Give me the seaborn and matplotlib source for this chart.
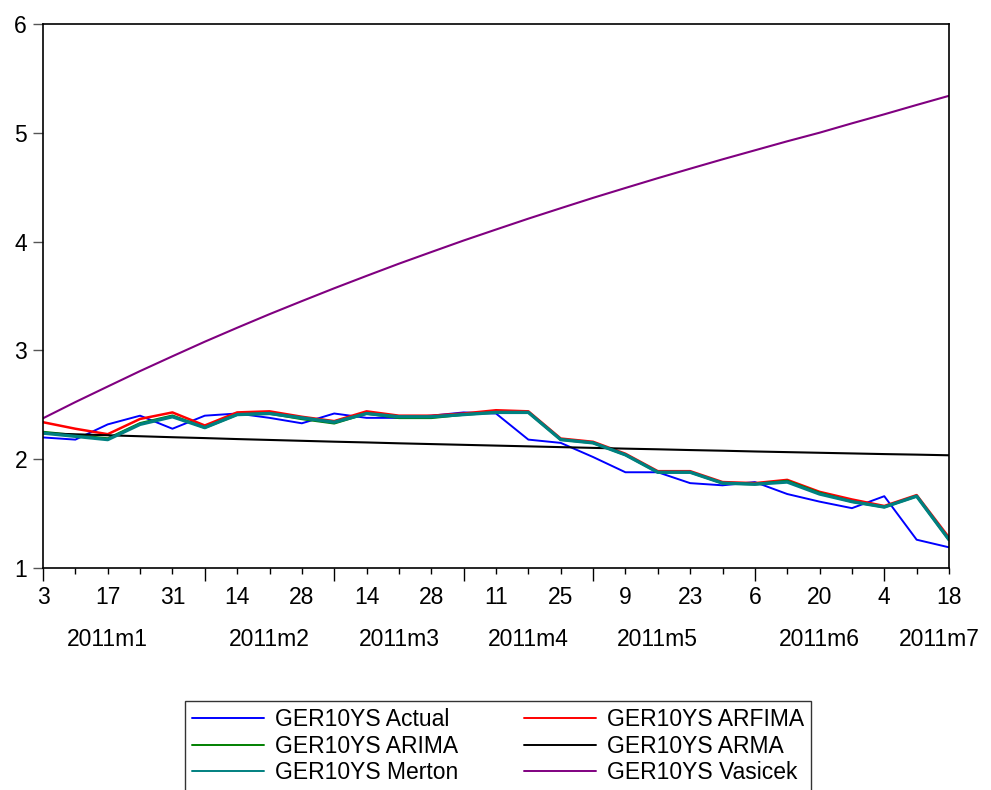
import matplotlib
matplotlib.use("Agg")
import matplotlib.pyplot as plt
import matplotlib.transforms as mtransforms
import matplotlib.dates as mdates
from matplotlib.lines import Line2D
import seaborn as sns
import pandas as pd

# ---------------- data ----------------
dates = pd.date_range("2011-01-03", periods=29, freq="W-MON")

actual = [2.20, 2.18, 2.32, 2.40, 2.28, 2.40, 2.42, 2.38, 2.33, 2.42,
          2.38, 2.38, 2.40, 2.43, 2.42, 2.18, 2.15, 2.02, 1.88, 1.88,
          1.78, 1.76, 1.79, 1.68, 1.61, 1.55, 1.66, 1.26, 1.19]
arfima = [2.34, 2.28, 2.23, 2.37, 2.43, 2.31, 2.43, 2.44, 2.39, 2.35,
          2.44, 2.40, 2.40, 2.42, 2.45, 2.44, 2.19, 2.16, 2.05, 1.89,
          1.89, 1.79, 1.78, 1.81, 1.70, 1.63, 1.57, 1.67, 1.28]
arima = [2.25, 2.22, 2.19, 2.33, 2.40, 2.29, 2.41, 2.42, 2.37, 2.33,
         2.42, 2.38, 2.38, 2.41, 2.43, 2.43, 2.18, 2.15, 2.04, 1.88,
         1.88, 1.78, 1.77, 1.80, 1.69, 1.61, 1.56, 1.66, 1.26]
arma = [2.238, 2.229, 2.220, 2.211, 2.202, 2.194, 2.185, 2.177, 2.169, 2.161,
        2.154, 2.146, 2.139, 2.132, 2.125, 2.118, 2.111, 2.104, 2.097, 2.091,
        2.084, 2.078, 2.071, 2.065, 2.059, 2.053, 2.047, 2.042, 2.036]
merton = [2.24, 2.21, 2.18, 2.32, 2.39, 2.29, 2.41, 2.42, 2.38, 2.34,
          2.42, 2.39, 2.39, 2.41, 2.43, 2.43, 2.18, 2.15, 2.04, 1.88,
          1.88, 1.78, 1.77, 1.79, 1.68, 1.61, 1.56, 1.66, 1.26]
vasicek = [2.376, 2.525, 2.668, 2.810, 2.946, 3.080, 3.208, 3.333, 3.453, 3.571,
           3.685, 3.797, 3.904, 4.010, 4.111, 4.211, 4.307, 4.402, 4.493, 4.583,
           4.670, 4.756, 4.839, 4.922, 5.001, 5.087, 5.170, 5.256, 5.340]

series_names = ["GER10YS Actual", "GER10YS ARFIMA", "GER10YS ARIMA",
                "GER10YS ARMA", "GER10YS Merton", "GER10YS Vasicek"]
series_values = [actual, arfima, arima, arma, merton, vasicek]
series_colors = ["#0000FF", "#FF0000", "#008000", "#000000", "#008080", "#800080"]
series_widths = [1.4, 1.8, 1.8, 1.5, 2.4, 1.5]

month_labels = ["2011m1", "2011m2", "2011m3", "2011m4", "2011m5", "2011m6", "2011m7"]
month_label_pos = [2, 7, 11, 15, 19, 24, 27.7]   # week index where label is centred
month_start_idx = [0, 5, 9, 13, 17, 22, 26]       # first observation of each month
y_ticks = [1, 2, 3, 4, 5, 6]

# ---------------- style ----------------
sns.set_style("white")
plt.rcParams["font.family"] = ["Liberation Sans", "DejaVu Sans"]
for k in ["text.color", "axes.labelcolor", "xtick.color", "ytick.color"]:
    plt.rcParams[k] = "black"
FS = 16.5

fig = plt.figure(figsize=(9.91, 7.90), dpi=100)
ax = fig.add_axes([43 / 991, 1 - 568 / 790, (949 - 43) / 991, (568 - 24) / 790])

for name, vals, col, lw in zip(series_names, series_values, series_colors, series_widths):
    d = pd.DataFrame({"date": dates, "value": vals})
    sns.lineplot(data=d, x="date", y="value", ax=ax, color=col, linewidth=lw,
                 legend=False)

ax.set_xlim(dates[0], dates[-1])
ax.set_ylim(1, 6)
ax.set_xlabel("")
ax.set_ylabel("")

for s in ax.spines.values():
    s.set_visible(True)
    s.set_color("black")
    s.set_linewidth(1.2)

# y ticks
ax.set_yticks(y_ticks)
ax.set_yticklabels([str(v) for v in y_ticks], fontsize=FS, color="black")
ax.tick_params(axis="y", which="major", direction="out", length=7.5, width=1.0,
               color="#555555", labelcolor="black", pad=4, left=True, right=False)

# x ticks: long at month starts, short every week
ax.set_xticks([dates[i] for i in month_start_idx])
ax.set_xticks(list(dates), minor=True)
ax.set_xticklabels([])
ax.tick_params(axis="x", which="major", direction="out", length=9, width=1.0,
               color="black", bottom=True, top=False)
ax.tick_params(axis="x", which="minor", direction="out", length=4.5, width=1.0,
               color="black", bottom=True, top=False)

trans = mtransforms.blended_transform_factory(ax.transData, ax.transAxes)
ax_h = 568 - 24
for i in range(0, len(dates), 2):
    ax.text(mdates.date2num(dates[i]), -30 / ax_h, str(dates[i].day), transform=trans,
            ha="center", va="center", fontsize=FS, color="black", clip_on=False)

x0 = mdates.date2num(dates[0])
step = mdates.date2num(dates[1]) - x0
for lab, pos in zip(month_labels, month_label_pos):
    ax.text(x0 + pos * step, -72 / ax_h, lab, transform=trans,
            ha="center", va="center", fontsize=FS, color="black", clip_on=False)

# legend (EViews row-wise order -> column-filled order here)
handles = {n: Line2D([], [], color=c, linewidth=1.4)
           for n, c in zip(series_names, series_colors)}
order = ["GER10YS Actual", "GER10YS ARIMA", "GER10YS Merton",
         "GER10YS ARFIMA", "GER10YS ARMA", "GER10YS Vasicek"]
leg = fig.legend([handles[n] for n in order], order, ncol=2,
                 loc="upper center", bbox_to_anchor=(498 / 991, 1 - 701 / 790),
                 fontsize=FS, frameon=True, fancybox=False, shadow=False,
                 borderaxespad=0, borderpad=0.3, handlelength=3.15,
                 handletextpad=0.45, columnspacing=2.9, labelspacing=0.16)
leg.get_frame().set_edgecolor("black")
leg.get_frame().set_linewidth(1.0)
for t in leg.get_texts():
    t.set_color("black")

fig.savefig("out.png", dpi=100)
